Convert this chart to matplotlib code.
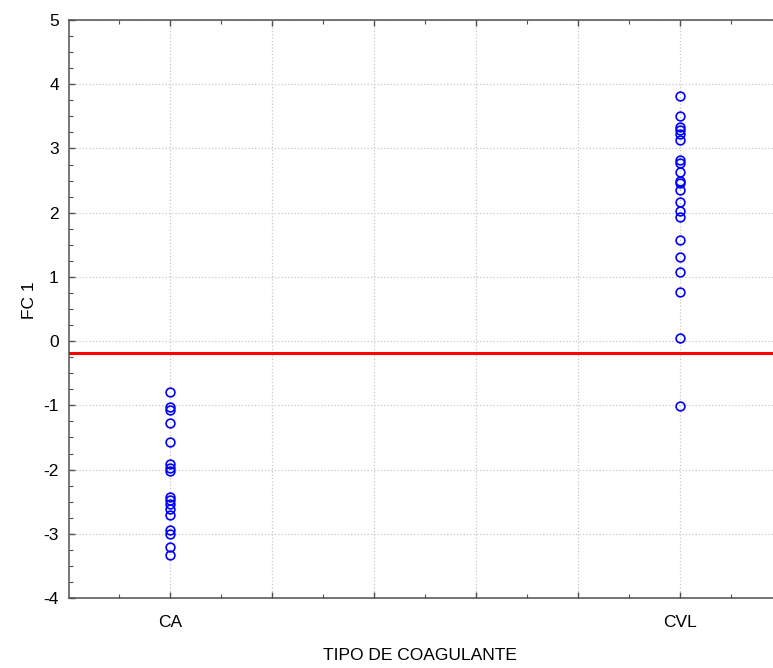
import matplotlib
matplotlib.use("Agg")
import matplotlib.pyplot as plt
import numpy as np
from matplotlib.ticker import MultipleLocator, FixedLocator

plt.rcParams["font.family"] = ["Liberation Sans Narrow", "Liberation Sans", "DejaVu Sans"]
plt.rcParams["axes.unicode_minus"] = False

# scores on the first canonical function, by coagulant type
categories = ["CA", "CVL"]
fc1_ca = [-0.80, -1.02, -1.07, -1.28, -1.57, -1.91, -1.97, -2.02,
          -2.42, -2.47, -2.54, -2.62, -2.70, -2.94, -3.00, -3.20, -3.33]
fc1_cvl = [3.82, 3.51, 3.34, 3.28, 3.22, 3.13, 2.82, 2.77, 2.64, 2.50,
           2.46, 2.36, 2.17, 2.02, 1.94, 1.58, 1.31, 1.07, 0.77, 0.05, -1.01]
cutoff = -0.18

BLUE = "#0000FF"
RED = "#FF0000"
AXC = "#505050"
GRID = "#C8C8C8"

fig = plt.figure(figsize=(7.73, 6.68), dpi=100, facecolor="white")
# axes runs slightly past the right edge of the picture (cropped like the original)
ax = fig.add_axes([68.5 / 773, 70 / 668, 713.5 / 773, 578 / 668])

for i, vals in enumerate([fc1_ca, fc1_cvl]):
    ax.plot(np.full(len(vals), i), vals, linestyle="none", marker="o",
            markersize=6.3, markerfacecolor="none", markeredgecolor=BLUE,
            markeredgewidth=1.2, zorder=3)

ax.axhline(cutoff, color=RED, linewidth=2.2, zorder=4)

ax.set_xlim(-0.2, 1.2)
ax.set_ylim(-4, 5)

ax.xaxis.set_major_locator(FixedLocator([0, 0.2, 0.4, 0.6, 0.8, 1.0]))
ax.set_xticklabels([categories[0], "", "", "", "", categories[1]])
ax.xaxis.set_minor_locator(FixedLocator([-0.1, 0.1, 0.3, 0.5, 0.7, 0.9, 1.1]))
ax.yaxis.set_major_locator(MultipleLocator(1))
ax.yaxis.set_minor_locator(MultipleLocator(0.25))

ax.grid(True, which="major", color=GRID, linestyle=":", linewidth=0.9)
ax.set_axisbelow(True)

for s in ["left", "bottom", "top"]:
    ax.spines[s].set_color(AXC)
    ax.spines[s].set_linewidth(1.1)
ax.spines["right"].set_visible(False)

ax.tick_params(which="both", direction="in", top=True, right=False,
               colors=AXC, labelcolor="black")
ax.tick_params(which="major", length=4, width=1.0)
ax.tick_params(which="minor", length=3, width=0.8)
ax.tick_params(axis="y", labelsize=12.5, pad=7)
ax.tick_params(axis="x", labelsize=12.5, pad=12)

ax.set_xlabel("TIPO DE COAGULANTE", fontsize=12.5)
ax.xaxis.set_label_coords(0.4927, -0.086)
ax.set_ylabel("FC 1", fontsize=12.5)
ax.yaxis.set_label_coords(-0.044, 0.515)

fig.savefig("out.png", dpi=100, facecolor="white")
